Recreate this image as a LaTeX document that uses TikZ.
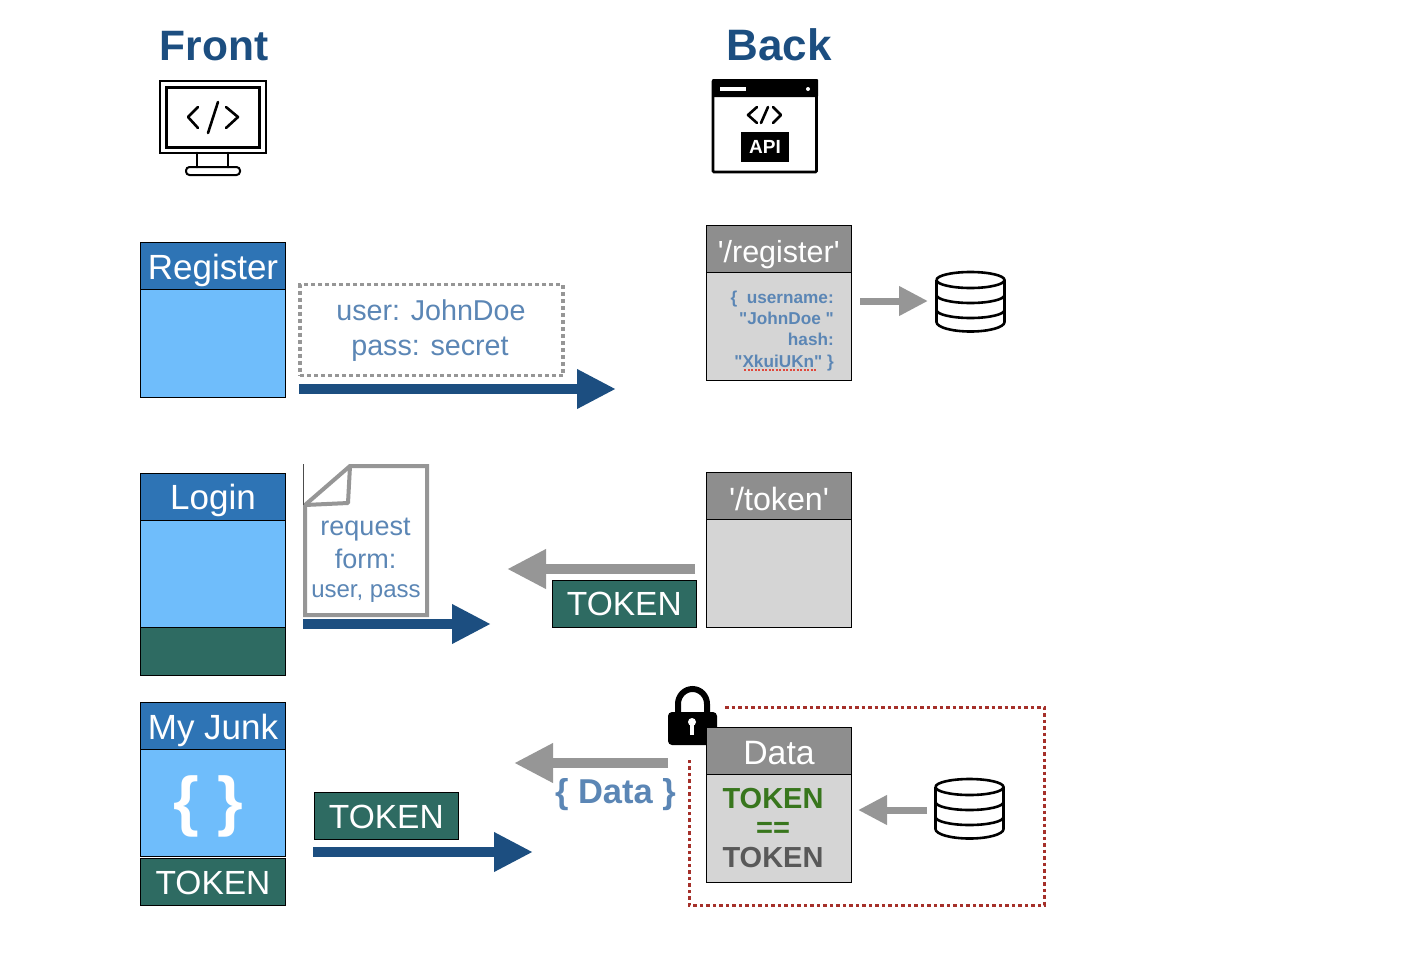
\documentclass[tikz,border=0pt]{standalone}
\usepackage{fontspec}
\setmainfont{Liberation Sans}
\newfontfamily\rawf{Liberation Sans}
\usetikzlibrary{arrows.meta}
\definecolor{hdrblue}{HTML}{2E74B5}
\definecolor{bodyblue}{HTML}{6FBDFB}
\definecolor{teal}{HTML}{2E6B62}
\definecolor{hdrgray}{HTML}{8E8E8E}
\definecolor{bodygray}{HTML}{D5D5D5}
\definecolor{navy}{HTML}{1C4E80}
\definecolor{softblue}{HTML}{5B86B5}
\definecolor{arrowgray}{HTML}{969696}
\definecolor{dashred}{HTML}{A5302A}
\definecolor{tokgreen}{HTML}{38761D}
\definecolor{tokgray}{HTML}{595959}
\definecolor{squiggle}{HTML}{E0483C}
\tikzset{
  fs/.style={font=\fontsize{#1}{#1}\selectfont, text height=#1*0.72pt, text depth=0pt, inner sep=0pt, outer sep=0pt},
  box/.style={draw=black, line width=1pt, minimum width=145pt, inner sep=0pt, outer sep=0pt},
  hdr/.style={box, fill=hdrblue, text=white, minimum height=47pt, fs=35, text height=26.5pt},
  ghdr/.style={box, fill=hdrgray, text=white, minimum height=47pt, font=\rawf\fontsize{#1}{#1}\selectfont, text height=26.5pt, text depth=0pt},
  bluebody/.style={box, fill=bodyblue},
  graybody/.style={box, fill=bodygray},
  tokbox/.style={box, fill=teal, text=white, minimum height=47pt, fs=33.5},
  title/.style={fs=42.5, text=navy},
  soft/.style={text=softblue},
  flow/.style={line width=10pt, -{Triangle[length=39pt,width=37pt]}},
  blueflow/.style={flow, draw=navy},
  grayflow/.style={flow, draw=arrowgray},
  dbflow/.style={line width=7pt, draw=arrowgray, -{Triangle[length=29pt,width=28pt]}},
  icon/.style={draw=black, line width=2.6pt, line join=round, line cap=round},
  dbline/.style={draw=black, line width=2.6pt},
  pics/db/.style={code={
    \draw[dbline, fill=white] (-34,-21) -- (-34,21) arc[start angle=180,end angle=360,x radius=34,y radius=-9.5] -- (34,-21);
    \draw[dbline] (-34,-21) arc[start angle=180,end angle=360,x radius=34,y radius=8] arc[start angle=0,end angle=180,x radius=34,y radius=8];
    \draw[dbline] (-34,-6) arc[start angle=180,end angle=360,x radius=34,y radius=-8];
    \draw[dbline] (-34,9) arc[start angle=180,end angle=360,x radius=34,y radius=-8];
  }},
}
\begin{document}
\begin{tikzpicture}[x=1pt,y=-1pt]
\useasboundingbox (0,0) rectangle (1406,962);
% titles
\node[title, font=\fontsize{42.5}{42.5}\selectfont\bfseries] (front) at (214,45.5) {Front};
\node[title, font=\fontsize{44}{44}\selectfont\bfseries] (back) at (779,45.5) {Back};
% monitor icon
\draw[draw=black, line width=2pt, fill=white] (160,81) rectangle (266,153);
\draw[draw=black, line width=3pt] (166,87) rectangle (259,147);
\draw[icon] (198,107) -- (188,117) -- (198,128);
\draw[icon] (226,107) -- (238,117) -- (226,128);
\draw[icon] (218,102) -- (208,133);
\draw[icon] (197,153) -- (197,167) (228,153) -- (228,167);
\draw[draw=black, line width=2pt, rounded corners=3.5pt] (186,167) rectangle (240,175);
% api icon
\draw[draw=black, line width=2.6pt, fill=white, rounded corners=1pt] (713,80.5) rectangle (816.5,172);
\fill[black, rounded corners=1pt] (712,79) rectangle (818,97);
\fill[white] (720,87) rectangle (746,91);
\fill[white] (808,89) circle[radius=2];
\draw[icon] (757,107) -- (748,115) -- (757,123);
\draw[icon] (773,107) -- (781,115) -- (773,123);
\draw[icon] (768,107) -- (761,123);
\node[fill=black, minimum width=48pt, minimum height=30pt, inner sep=0pt, text=white, font=\fontsize{19}{19}\selectfont\bfseries, text height=13.7pt, text depth=0pt] (api) at (765,147) {API};
% register front
\node[hdr] (reghead) at (213,266) {Register};
\node[bluebody, minimum height=108pt, anchor=north] (regbody) at (reghead.south) {};
\node[draw=arrowgray, line width=3.5pt, dash pattern=on 4pt off 3pt, minimum width=263pt, minimum height=91pt, fill=white, inner sep=0pt] (cred) at (431.5,330) {};
\node[soft, fs=28.7] (credu) at (431,310.5) {user: JohnDoe};
\node[soft, fs=28.7] (credp) at (430,345.5) {pass: secret};
\coordinate (a1s) at (299,389);
\coordinate (a1e) at (616,389);
\draw[blueflow] (a1s) -- (a1e);
% register back
\node[ghdr=30.5] (rroute) at (778.7,249) {'/register'};
\node[graybody, minimum height=108pt, anchor=north] (rbody) at (rroute.south) {};
\node[soft, anchor=north east, align=right, inner sep=0pt, font=\rawf\fontsize{17.2}{21.3}\selectfont\bfseries] (json) at (834,290.5) {\{\ \ username:\\"JohnDoe "\\hash:\\"XkuiUKn" \}};
\coordinate (sq1) at (744,370);
\coordinate (sq2) at (817,370);
\draw[draw=squiggle, line width=2pt, dash pattern=on 2pt off 1.5pt] (sq1) -- (sq2);
\coordinate (a2s) at (860,301);
\coordinate (a2e) at (928,301);
\draw[dbflow] (a2s) -- (a2e);
\pic at (970.5,301) {db};
% login front
\node[hdr] (loghead) at (213,496.5) {Login};
\node[bluebody, minimum height=107.5pt, anchor=north] (logbody) at (loghead.south) {};
\node[box, fill=teal, minimum height=48pt, anchor=north] (logbar) at (logbody.south) {};
% document
\draw[draw=arrowgray, line width=4pt, line join=miter, fill=white] (350,466) -- (427,466) -- (427,615) -- (305,615) -- (305,505) -- cycle;
\draw[draw=arrowgray, line width=4pt, line join=round] (305,505) -- (348,503) -- (350,466);
\draw[draw=black!70, line width=0.7pt] (303.5,464) -- (303.5,505);
\node[soft, fs=27] (req1) at (365.5,526) {request};
\node[soft, fs=27] (req2) at (365.5,559) {form:};
\node[soft, fs=24] (req3) at (366,589) {user, pass};
\coordinate (a3s) at (303,624);
\coordinate (a3e) at (491,624);
\draw[blueflow] (a3s) -- (a3e);
% token back
\node[ghdr=32.2, text height=28pt] (troute) at (779,496) {'/token'};
\node[graybody, minimum height=108pt, anchor=north] (tbody) at (troute.south) {};
\coordinate (a4s) at (695,569);
\coordinate (a4e) at (507,569);
\draw[grayflow] (a4s) -- (a4e);
\node[tokbox, minimum width=144.5pt] (tok1) at (624.3,603.5) {TOKEN};
% my junk front
\node[hdr] (junkhead) at (213,726) {My Junk};
\node[bluebody, minimum height=106.5pt, anchor=north] (junkbody) at (junkhead.south) {};
\node[text=white, inner sep=0pt, font=\fontsize{66}{66}\selectfont\bfseries] (braces) at (208.5,806) {\{ \}};
\node[tokbox] (tok2) at (213,882) {TOKEN};
\node[tokbox, minimum width=144.5pt] (tok3) at (386.3,816) {TOKEN};
\coordinate (a5s) at (313,852);
\coordinate (a5e) at (533,852);
\draw[blueflow] (a5s) -- (a5e);
% data back
\coordinate (d1) at (725,707);
\coordinate (d2) at (1044,707);
\coordinate (d3) at (1044,905);
\coordinate (d4) at (689,905);
\coordinate (d5) at (689,757);
\draw[draw=dashred, line width=3pt, dash pattern=on 3.5pt off 3pt] (d1) -- (d2) -- (d3) -- (d4) -- (d5);
% lock
\draw[draw=black, line width=6pt] (678,716) -- (678,704) arc[start angle=180,end angle=360,x radius=14.5,y radius=15] -- (707,716);
\fill[black, rounded corners=4pt] (668,712) rectangle (717,745);
\fill[white] (692,722) circle[radius=4];
\fill[white] (690.3,722) rectangle (693.7,735);
\node[ghdr=33.8, text height=27pt] (dhead) at (779,751) {Data};
\node[graybody, minimum height=108pt, anchor=north] (dbody) at (dhead.south) {};
\node[fs=29, text=tokgreen, font=\fontsize{29}{29}\selectfont\bfseries] (tg) at (773,798) {TOKEN};
\node[fs=29, text=tokgreen, font=\fontsize{29}{29}\selectfont\bfseries, text height=14pt] (eq) at (773,830) {==};
\node[fs=29, text=tokgray, font=\fontsize{29}{29}\selectfont\bfseries] (tgr) at (773,857) {TOKEN};
\coordinate (a6s) at (668,763);
\coordinate (a6e) at (514,763);
\draw[grayflow] (a6s) -- (a6e);
\node[fs=34.5, soft, font=\fontsize{34.5}{34.5}\selectfont\bfseries] (dat) at (615.5,791) {\{ Data \}};
\coordinate (a7s) at (927,810);
\coordinate (a7e) at (858,810);
\draw[dbflow] (a7s) -- (a7e);
\pic at (969.5,808) {db};
\end{tikzpicture}
\end{document}
